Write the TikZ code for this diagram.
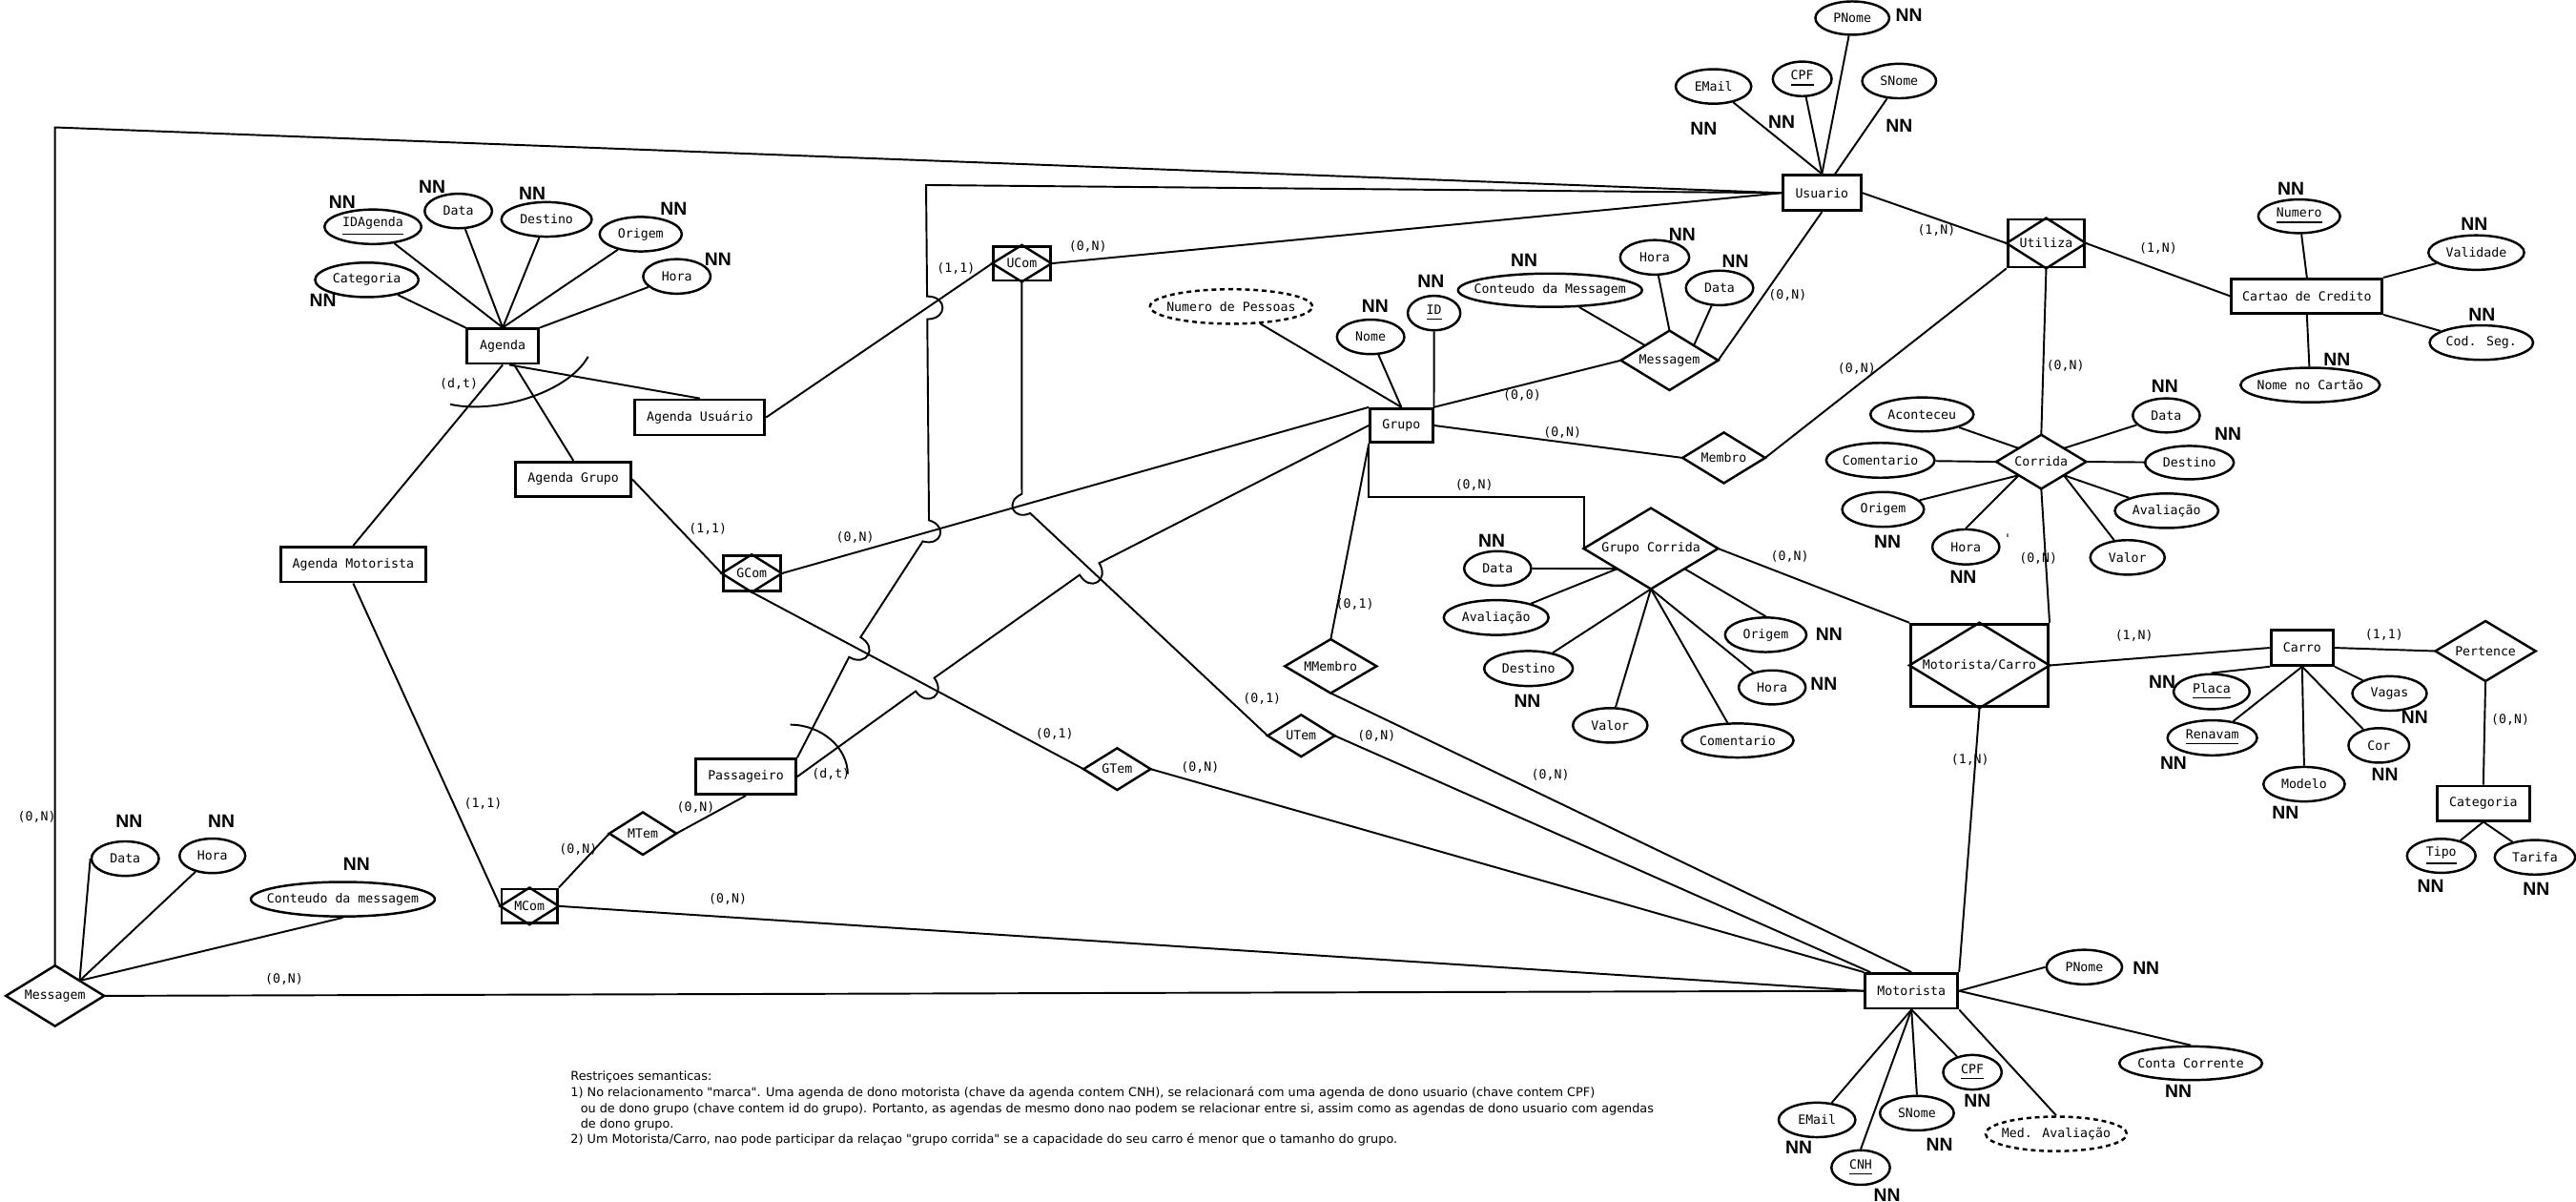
\documentclass[tikz,border=0pt]{standalone}
\usepackage{fontspec}
\usetikzlibrary{shapes.geometric,calc}
\newfontfamily\monof{DejaVu Sans Mono}
\newfontfamily\nnf{Liberation Sans}
\newfontfamily\notef{DejaVu Sans}
\newcommand\ux{0.017226cm}
\newcommand\zb[1]{\makebox[0pt]{#1}}
\tikzset{
 txt/.style={font=\monof\fontsize{3.76}{4.5}\selectfont},
 lab/.style={txt, inner sep=0pt},
 ent/.style 2 args={txt, draw, line width=0.8pt, rectangle, inner sep=0pt, minimum width=#1*\ux, minimum height=#2*\ux},
 attr/.style 2 args={txt, draw, ellipse, line width=0.7pt, inner sep=0pt, minimum width=#1*\ux, minimum height=#2*\ux},
 dattr/.style 2 args={attr={#1}{#2}, dash pattern=on 1.4pt off 1.1pt},
 rel/.style 2 args={txt, rectangle, inner sep=0pt, minimum width=#1*\ux, minimum height=#2*\ux},
 wrel/.style 2 args={rel={#1}{#2}, draw, line width=0.8pt},
 nn/.style={font=\nnf\bfseries\fontsize{5.5}{6}\selectfont, inner sep=0pt},
 note/.style={font=\notef\fontsize{3.65}{4.6}\selectfont, inner sep=0pt, anchor=base west},
 conn/.style={line width=0.55pt},
 hopl/.style={bend left=90, looseness=2.3},
 hopr/.style={bend right=90, looseness=2.3},
}
\begin{document}
\begin{tikzpicture}[x=\ux, y=-\ux]
\path[use as bounding box, fill=white] (0,0) rectangle (1568,731);

% ---------- entities
\node[ent={47.7}{21.5}] (usuario) at (1109,117.4) {Usuario};
\node[ent={43.6}{21}] (agenda) at (306,210.7) {Agenda};
\node[ent={79}{21.5}] (au) at (426,254) {Agenda Usuário};
\node[ent={70}{21}] (ag) at (349,291.6) {Agenda Grupo};
\node[ent={88.4}{21.3}] (am) at (215,343.5) {Agenda Motorista};
\node[ent={61}{21.5}] (pass) at (454,472.6) {Passageiro};
\node[ent={38}{20.6}] (grupo) at (853,258.9) {Grupo};
\node[ent={91.7}{21}] (cartao) at (1404.2,180.2) {Cartao de Credito};
\node[ent={38}{21.3}] (carro) at (1401.3,394.2) {Carro};
\node[ent={56}{21}] (categoria) at (1511.6,488.8) {Categoria};
\node[ent={56.4}{21.2}] (motorista) at (1163.5,603) {Motorista};

% ---------- weak relationships
\node[wrel={34.5}{20.7}] (ucom) at (622,160.3) {UCom};
\node[wrel={35}{21.3}] (gcom) at (457.6,348.9) {GCom};
\node[wrel={34}{20.8}] (mcom) at (322.3,551.4) {MCom};
\node[wrel={46.7}{29}] (utiliza) at (1245.5,148) {Utiliza};
\node[wrel={83.7}{50.3}] (mc) at (1204.9,404.9) {Motorista/Carro};

% ---------- relationships
\node[rel={59}{36}] (msgL) at (33.5,606) {Messagem};
\node[rel={40}{25}] (mtem) at (391.3,507.2) {MTem};
\node[rel={40}{24.6}] (gtem) at (680,468) {GTem};
\node[rel={40}{24.6}] (utem) at (792,447.7) {UTem};
\node[rel={55}{32}] (mmembro) at (810,405.4) {MMembro};
\node[rel={58.4}{35.4}] (msgM) at (1016.2,219.3) {Messagem};
\node[rel={49.5}{30}] (membro) at (1049.3,278.6) {Membro};
\node[rel={54}{32}] (corrida) at (1242.5,281) {Corrida};
\node[rel={81}{48.4}] (gc) at (1004.9,333.8) {Grupo Corrida};
\node[rel={60.3}{35.7}] (pertence) at (1512.9,396.2) {Pertence};
\foreach \n in {msgL,mtem,gtem,utem,mmembro,msgM,membro,corrida,gc,pertence,ucom,gcom,mcom,utiliza,mc}
  \draw[line width=0.7pt] (\n.north) -- (\n.east) -- (\n.south) -- (\n.west) -- cycle;

% ---------- attributes
\node[attr={45}{20.3}] (u_pnome) at (1127.5,11) {\zb{PNome}};
\node[attr={46}{21}] (u_email) at (1043,52.6) {\zb{EMail}};
\node[attr={35.8}{21}] (u_cpf) at (1097,48) {\zb{\underline{CPF}}};
\node[attr={45}{21}] (u_snome) at (1156,49.3) {\zb{SNome}};

\node[attr={59}{21}] (a_id) at (227,138) {\zb{\underline{IDAgenda}}};
\node[attr={41}{21}] (a_data) at (279,128.4) {\zb{Data}};
\node[attr={55}{21}] (a_dest) at (332.7,133.5) {\zb{Destino}};
\node[attr={50}{21}] (a_orig) at (390,142.5) {\zb{Origem}};
\node[attr={41}{21}] (a_hora) at (412,168.2) {\zb{Hora}};
\node[attr={63}{21}] (a_cat) at (223.3,170.3) {\zb{Categoria}};

\node[attr={41}{21}] (m_data) at (76.2,522.5) {\zb{Data}};
\node[attr={40}{21}] (m_hora) at (129.3,520.8) {\zb{Hora}};
\node[attr={112}{21}] (m_cont) at (208.7,547.2) {\zb{Conteudo da messagem}};

\node[dattr={98.8}{21}] (g_num) at (749.4,186.5) {\zb{Numero de Pessoas}};
\node[attr={41}{21}] (g_nome) at (834.3,205) {\zb{Nome}};
\node[attr={32}{21}] (g_id) at (872.9,190.5) {\zb{\underline{ID}}};

\node[attr={112}{20.3}] (mm_cont) at (943.5,176.6) {\zb{Conteudo da Messagem}};
\node[attr={42}{21}] (mm_hora) at (1007.2,156.6) {\zb{Hora}};
\node[attr={41}{21}] (mm_data) at (1046.7,175.2) {\zb{Data}};

\node[attr={49.8}{20.5}] (c_num) at (1399.5,131.6) {\zb{\underline{Numero}}};
\node[attr={58.3}{21}] (c_val) at (1507.3,153.7) {\zb{Validade}};
\node[attr={63}{21}] (c_cod) at (1510.4,208.5) {\zb{Cod. Seg.}};
\node[attr={84.8}{21}] (c_nome) at (1406.2,234.3) {\zb{Nome no Cartão}};

\node[attr={62.8}{20.7}] (r_acon) at (1169.9,252.2) {\zb{Aconteceu}};
\node[attr={66}{21.2}] (r_com) at (1144.6,280.1) {\zb{Comentario}};
\node[attr={49.8}{21.2}] (r_orig) at (1146.2,310) {\zb{Origem}};
\node[attr={40.8}{21.3}] (r_hora) at (1196.6,332.8) {\zb{Hora}};
\node[attr={40.8}{20.7}] (r_data) at (1318.6,252.8) {\zb{Data}};
\node[attr={54}{20.3}] (r_dest) at (1332.7,281.5) {\zb{Destino}};
\node[attr={63}{21}] (r_aval) at (1318.8,310.8) {\zb{Avaliação}};
\node[attr={45.3}{21}] (r_valor) at (1295,339.2) {\zb{Valor}};
\node[lab] (ap) at (1222,328) {'};

\node[attr={40.8}{21}] (gc_data) at (911.6,345.9) {\zb{Data}};
\node[attr={63.8}{21.2}] (gc_aval) at (910.7,375.8) {\zb{Avaliação}};
\node[attr={54}{21.3}] (gc_dest) at (930.4,406.8) {\zb{Destino}};
\node[attr={45.4}{21}] (gc_valor) at (980.1,441.4) {\zb{Valor}};
\node[attr={68}{20.7}] (gc_com) at (1057.7,450.6) {\zb{Comentario}};
\node[attr={40.7}{20.7}] (gc_hora) at (1078.7,418.3) {\zb{Hora}};
\node[attr={49.5}{21}] (gc_orig) at (1074.8,386.3) {\zb{Origem}};

\node[attr={46.3}{21.3}] (k_placa) at (1346.2,420.9) {\zb{\underline{Placa}}};
\node[attr={54.5}{21.3}] (k_ren) at (1346.6,449) {\zb{\underline{Renavam}}};
\node[attr={49.5}{21}] (k_mod) at (1402.5,477.2) {\zb{Modelo}};
\node[attr={37}{21}] (k_cor) at (1448,453.6) {\zb{Cor}};
\node[attr={45.3}{21}] (k_vagas) at (1454.5,422) {\zb{Vagas}};

\node[attr={41.7}{20.7}] (t_tipo) at (1486,520.8) {\zb{\underline{Tipo}}};
\node[attr={49}{21}] (t_tarifa) at (1543,521.7) {\zb{Tarifa}};

\node[attr={46}{21}] (o_pnome) at (1268.7,588.5) {\zb{PNome}};
\node[attr={87}{20.5}] (o_conta) at (1333.5,647) {\zb{Conta Corrente}};
\node[attr={35.6}{21}] (o_cpf) at (1200.6,652.5) {\zb{\underline{CPF}}};
\node[dattr={86}{21}] (o_med) at (1251.6,690) {\zb{Med. Avaliação}};
\node[attr={45}{21}] (o_snome) at (1166.8,677.4) {\zb{SNome}};
\node[attr={46.7}{21}] (o_email) at (1106,681.5) {\zb{EMail}};
\node[attr={35.6}{21}] (o_cnh) at (1132.6,710.5) {\zb{\underline{CNH}}};

% ---------- NN marks
\foreach \x/\y [count=\i] in {1162/9, 1037/78.4, 1084.5/74, 1156/76.4,
  208.3/123, 263/113.6, 324/118, 410/127, 437/158, 196.6/183,
  78.6/500, 134.8/500, 217/526,
  837/186, 871/171,
  927.7/158.6, 1024/142.6, 1056.3/159,
  1394.5/115.1, 1506.1/136.4, 1510.7/191.6, 1422.5/218.7,
  1148.9/329.9, 1195/351, 1317.7/235.1, 1356.2/264.1,
  908/329.3, 929.7/426.7, 1110.2/416, 1113.4/386,
  1316.1/415.1, 1323/464.4, 1391.1/494.4, 1451.7/471.2, 1469.8/436.4,
  1479.5/539.3, 1543.8/541.2,
  1306.3/589.2, 1326/664, 1203.6/669.9, 1180.6/696.3, 1094.9/698, 1148.6/727.4}
  \node[nn] (nn\i) at (\x,\y) {NN};

% ---------- attribute connectors
\draw[conn] (usuario.north) -- (u_email);
\draw[conn] (usuario.north) -- (u_cpf);
\draw[conn] (usuario.north) -- (u_pnome);
\draw[conn] ($(usuario.north)+(8,0)$) -- (u_snome);

\draw[conn] (agenda.north west) -- (a_cat);
\draw[conn] (agenda.north) -- (a_id);
\draw[conn] (agenda.north) -- (a_data);
\draw[conn] (agenda.north) -- (a_dest);
\draw[conn] (agenda.north) -- (a_orig);
\draw[conn] (agenda.north east) -- (a_hora);

\coordinate (mlp) at ($(msgL.north)!0.5!(msgL.east)$);
\draw[conn] (mlp) -- (m_data.west);
\draw[conn] (mlp) -- (m_hora);
\draw[conn] (mlp) -- (m_cont.south);

\draw[conn] (grupo.north) -- (g_num);
\draw[conn] (grupo.north) -- (g_nome);
\draw[conn] (grupo.north east) -- (g_id.south);

\draw[conn] (mm_cont) -- ($(msgM.west)!0.5!(msgM.north)$);
\draw[conn] (mm_hora) -- (msgM.north);
\draw[conn] (mm_data) -- ($(msgM.north)!0.5!(msgM.east)$);

\draw[conn] (cartao.north) -- (c_num);
\draw[conn] (cartao.north east) -- (c_val);
\draw[conn] (cartao.south east) -- (c_cod);
\draw[conn] (cartao.south) -- (c_nome);

\draw[conn] (r_acon) -- ($(corrida.west)!0.5!(corrida.north)$);
\draw[conn] (r_com) -- (corrida.west);
\draw[conn] (r_orig) -- ($(corrida.west)!0.5!(corrida.south)$);
\draw[conn] (r_hora.north) -- ($(corrida.west)!0.5!(corrida.south)$);
\draw[conn] (r_data) -- ($(corrida.north)!0.5!(corrida.east)$);
\draw[conn] (corrida.east) -- (r_dest);
\draw[conn] ($(corrida.south)!0.5!(corrida.east)$) -- (r_aval);
\draw[conn] ($(corrida.south)!0.5!(corrida.east)$) -- (r_valor);

\coordinate (gcl) at ($(gc.west)!0.5!(gc.south)$);
\draw[conn] (gcl) -- (gc_data);
\draw[conn] (gcl) -- (gc_aval);
\draw[conn] (gc.south) -- (gc_dest);
\draw[conn] (gc.south) -- (gc_valor);
\draw[conn] (gc.south) -- (gc_com);
\draw[conn] (gc.south) -- (gc_hora);
\draw[conn] ($(gc.south)!0.5!(gc.east)$) -- (gc_orig.north);

\draw[conn] (carro.south west) -- (k_placa.north);
\draw[conn] (carro.south) -- (k_ren);
\draw[conn] (carro.south) -- (k_mod.north);
\draw[conn] (carro.south) -- (k_cor);
\draw[conn] (carro.south east) -- (k_vagas);

\draw[conn] (categoria.south) -- (t_tipo);
\draw[conn] (categoria.south) -- (t_tarifa);

\draw[conn] (motorista.east) -- (o_pnome.west);
\draw[conn] (motorista.east) -- (o_conta.north);
\draw[conn] (motorista.south) -- (o_cpf);
\draw[conn] (motorista.south east) -- (o_med.north);
\draw[conn] (motorista.south) -- (o_snome.north);
\draw[conn] (motorista.south) -- (o_email);
\draw[conn] (motorista.south) -- (o_cnh.north);

% ---------- relationship connectors
\coordinate (tl) at (33.5,77.5);
\draw[conn] (msgL.north) -- (tl) -- (usuario.west);
\draw[conn] (msgL.east) -- (motorista.west);

\draw[conn] (agenda.south) -- (am.north);
\draw[conn] ($(agenda.south)+(4,0)$) -- (au.north);
\draw[conn] ($(agenda.south)+(7,0)$) -- (ag.north);
\draw[conn] (274,246) .. controls (300,252) and (345,240) .. (358,217);
\draw[conn] (481,441) .. controls (500,441) and (516,455) .. (516,471);

\draw[conn] (am.south) -- (mcom.west);
\draw[conn] (mcom.east) -- (motorista.west);
\draw[conn] (mcom.north east) -- (mtem.west);
\draw[conn] (mtem.east) -- (pass.south);

\draw[conn] (au.east) -- (ucom.west);
\draw[conn] (ucom.east) -- (usuario.west);
\draw[conn] (ag.east) -- (gcom.west);
\coordinate (gnw) at (grupo.north west);
\draw[conn] (gcom.east) -- (gnw);
\draw[conn] (gcom.south) -- (gtem.west);
\draw[conn] (gtem.east) -- (motorista.north west);
\draw[conn] (utem.east) -- ($(motorista.north west)+(4,0)$);
\draw[conn] (mmembro.north) -- (grupo.south west);
\draw[conn] (mmembro.south) -- (motorista.north);

% Passageiro -> Usuario (with hops)
\coordinate (k1) at (563.7,112.6);
\coordinate (va) at (565.5,100);
\coordinate (vb) at (565.5,700);
\coordinate (k2) at (intersection of va--vb and gcom.east--gnw);
\coordinate (ha) at (intersection of k1--k2 and au.east--ucom.west);
\coordinate (wa) at (520,100);
\coordinate (wb) at (520,700);
\coordinate (k3) at (intersection of wa--wb and gcom.south--gtem.west);
\coordinate (pne) at (pass.north east);
\draw[conn] (usuario.west) -- (k1) -- ($(ha)!0.12cm!(k1)$) to[hopl] ($(ha)!0.12cm!(k2)$)
  -- ($(k2)!0.12cm!(k1)$) to[hopl] ($(k2)!0.12cm!(k3)$)
  -- ($(k3)!0.12cm!(k2)$) to[hopl] ($(k3)!0.12cm!(pne)$) -- (pne);

% UCom -> UTem (with hop)
\coordinate (ucs) at (ucom.south);
\coordinate (ucb) at ($(ucom.south)+(0,300)$);
\coordinate (k4) at (intersection of ucs--ucb and gcom.east--gnw);
\coordinate (utw) at (utem.west);
\draw[conn] (ucs) -- ($(k4)!0.12cm!(ucs)$) to[hopr] ($(k4)!0.12cm!(utw)$) -- (utw);

% Passageiro -> Grupo (with hops)
\coordinate (xa) at (563,100);
\coordinate (xb) at (563,700);
\coordinate (h1) at (intersection of xa--xb and gcom.south--gtem.west);
\coordinate (ya) at (662.8,100);
\coordinate (yb) at (662.8,700);
\coordinate (h2) at (intersection of ya--yb and k4--utw);
\coordinate (pe) at (pass.east);
\coordinate (gw) at (grupo.west);
\draw[conn] (pe) -- ($(h1)!0.12cm!(pe)$) to[hopr] ($(h1)!0.12cm!(h2)$)
  -- ($(h2)!0.12cm!(h1)$) to[hopr] ($(h2)!0.12cm!(gw)$) -- (gw);

\draw[conn] (grupo.north east) -- (msgM.west);
\draw[conn] (grupo.east) -- (membro.west);
\draw[conn] (grupo.south west) -- ++(0,32.7) -| (gc.west);
\draw[conn] (msgM.east) -- (usuario.south);
\draw[conn] (membro.east) -- (utiliza.south west);
\draw[conn] (usuario.east) -- (utiliza.west);
\draw[conn] (utiliza.east) -- (cartao.west);
\draw[conn] (utiliza.south) -- (corrida.north);
\draw[conn] (corrida.south) -- (mc.north east);
\draw[conn] (gc.east) -- (mc.north west);
\draw[conn] (mc.east) -- (carro.west);
\draw[conn] (mc.south) -- (motorista.north east);
\draw[conn] (carro.east) -- (pertence.west);
\draw[conn] (pertence.south) -- (categoria.north);

% ---------- cardinality labels
\foreach \x/\y/\t [count=\i] in {22.4/497/{(0,N)}, 173/596/{(0,N)}, 443/547/{(0,N)}, 352/516.7/{(0,N)},
  423.5/491.5/{(0,N)}, 294/489/{(1,1)}, 581.9/163.5/{(1,1)}, 662.2/150/{(0,N)}, 430.9/321.8/{(1,1)},
  520.5/327/{(0,N)}, 641.9/446.4/{(0,1)}, 730.5/467/{(0,N)}, 768.2/425.1/{(0,1)}, 837.9/447.6/{(0,N)},
  824.7/367.7/{(0,1)}, 943.7/471.6/{(0,N)}, 926.5/240.8/{(0,0)}, 951/263.2/{(0,N)}, 897.3/295.1/{(0,N)},
  1088.1/179.6/{(0,N)}, 1178.7/140.3/{(1,N)}, 1313.7/151/{(1,N)}, 1257.2/222.5/{(0,N)}, 1130.2/224.5/{(0,N)},
  1089.4/338.6/{(0,N)}, 1240.7/339.6/{(0,N)}, 1299/387/{(1,N)}, 1451.2/386/{(1,1)}, 1528/437.7/{(0,N)},
  1199.2/462.5/{(1,N)}, 279.3/233.8/{(d,t)}, 505.8/471.2/{(d,t)}}
  \node[lab] (card\i) at (\x,\y) {\t};

% ---------- notes
\node[note] (n1) at (347,657.5) {Restriçoes semanticas:};
\node[note] (n2) at (347,667.2) {1) No relacionamento "marca". Uma agenda de dono motorista (chave da agenda contem CNH), se relacionará com uma agenda de dono usuario (chave contem CPF)};
\node[note] (n3) at (353,676.9) {ou de dono grupo (chave contem id do grupo). Portanto, as agendas de mesmo dono nao podem se relacionar entre si, assim como as agendas de dono usuario com agendas};
\node[note] (n4) at (353,686.5) {de dono grupo.};
\node[note] (n5) at (347,696) {2) Um Motorista/Carro, nao pode participar da relaçao "grupo corrida" se a capacidade do seu carro é menor que o tamanho do grupo.};
\end{tikzpicture}
\end{document}
